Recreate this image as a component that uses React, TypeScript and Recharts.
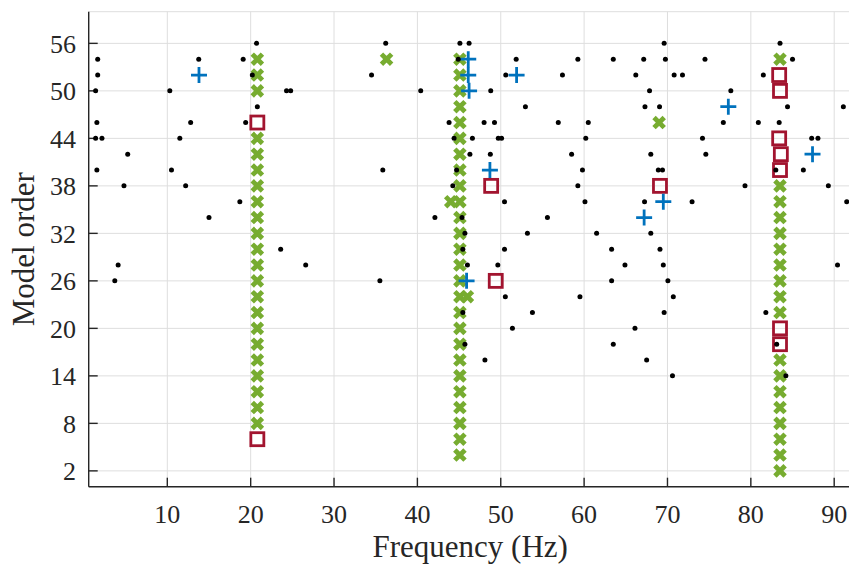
import React from 'react';
import { ScatterChart, Scatter, XAxis, YAxis, CartesianGrid, Label } from 'recharts';

// axis ticks
const freqTicks = [10, 20, 30, 40, 50, 60, 70, 80, 90];
const orderTicks = [2, 8, 14, 20, 26, 32, 38, 44, 50, 56];

// stable poles (frequency, damping and mode shape) -> green x
const stablePoles: [number, number][] = [
  [20.8, 8], [20.8, 10], [20.8, 12], [20.8, 14], [20.8, 16], [20.8, 18], [20.8, 20],
  [20.8, 22], [20.8, 24], [20.8, 26], [20.8, 28], [20.8, 30], [20.8, 32], [20.8, 34],
  [20.8, 36], [20.8, 38], [20.8, 40], [20.8, 42], [20.8, 44], [20.8, 50], [20.8, 52],
  [20.8, 54],
  [36.3, 54],
  [45.1, 4], [45.1, 6], [45.1, 8], [45.1, 10], [45.1, 12], [45.1, 14], [45.1, 16],
  [45.1, 18], [45.1, 20], [45.1, 22], [45.1, 24], [45.1, 26], [45.1, 28], [45.1, 30],
  [45.1, 32], [45.1, 34], [45.1, 36], [45.1, 38], [45.1, 40], [45.1, 42], [45.1, 44],
  [45.1, 46], [45.1, 48], [45.1, 50], [45.1, 52], [45.1, 54],
  [44.0, 36], [46.0, 24],
  [69.0, 46],
  [83.5, 2], [83.5, 4], [83.5, 6], [83.5, 8], [83.5, 10], [83.5, 12], [83.5, 14],
  [83.5, 16], [83.5, 22], [83.5, 24], [83.5, 26], [83.5, 28], [83.5, 30], [83.5, 32],
  [83.5, 34], [83.5, 36], [83.5, 38], [83.5, 54],
];

// stable in frequency only -> red square
const freqPoles: [number, number][] = [
  [20.8, 46], [20.8, 6], [48.85, 38], [49.4, 26], [69.1, 38],
  [83.4, 52], [83.5, 50], [83.4, 44], [83.6, 42], [83.5, 40], [83.5, 20], [83.5, 18],
];

// stable in frequency and damping -> blue plus
const dampPoles: [number, number][] = [
  [13.8, 52], [46.1, 54], [46.1, 52], [46.2, 50], [51.9, 52], [48.7, 40], [45.9, 26],
  [77.3, 48], [87.4, 42], [69.5, 36], [67.2, 34],
];

// unstable poles -> black dot
const newPoles: [number, number][] = [
  [1.65, 54], [1.65, 52], [1.4, 50], [1.55, 46], [1.4, 44], [2.16, 44], [5.25, 42],
  [1.55, 40], [4.8, 38], [13.77, 54], [10.3, 50], [12.8, 46], [11.5, 44], [10.5, 40],
  [12.2, 38], [15.0, 34], [18.7, 36], [19.1, 54], [20.2, 52], [19.4, 46], [20.7, 56],
  [20.8, 48], [24.3, 50], [24.8, 50], [23.6, 30], [4.1, 28], [3.7, 26],
  [36.2, 56], [34.5, 52], [40.4, 50], [45.1, 56], [46.2, 56], [44.9, 54], [48.8, 50],
  [51.85, 54], [50.6, 52], [57.4, 52], [59.25, 54], [52.96, 48], [43.8, 46], [48.0, 46],
  [49.25, 46], [56.9, 46], [44.4, 44], [46.6, 44], [49.7, 44], [50.1, 44], [46.3, 42],
  [48.75, 42], [58.5, 42], [35.85, 40], [44.7, 40], [44.25, 38], [59.25, 38], [50.45, 36],
  [42.1, 34], [45.35, 34], [55.6, 34], [45.7, 32], [53.2, 32], [45.45, 30], [50.45, 30],
  [26.6, 28], [35.5, 26], [46.0, 28], [49.65, 28], [50.55, 24], [59.5, 24], [45.45, 22],
  [53.8, 22], [51.4, 20], [45.7, 18], [48.1, 16],
  [69.6, 56], [83.5, 56], [63.5, 54], [67.15, 54], [69.75, 54], [74.5, 54], [85.0, 54],
  [66.2, 52], [70.8, 52], [71.8, 52], [81.5, 52], [67.85, 50], [77.6, 50], [67.3, 48],
  [69.05, 48], [84.4, 48], [91.1, 48], [60.5, 46], [76.7, 46], [80.9, 46], [83.4, 46],
  [60.2, 44], [74.2, 44], [87.3, 44], [88.05, 44], [68.0, 42], [74.6, 42], [59.8, 40],
  [68.9, 40], [69.4, 40], [83.0, 40], [86.3, 40], [79.3, 38], [89.3, 38], [60.1, 36],
  [67.25, 36], [72.95, 36], [91.5, 36], [61.5, 32], [68.0, 32], [63.3, 30], [69.1, 30],
  [64.9, 28], [69.5, 28], [90.4, 28], [63.3, 26], [70.05, 26], [70.7, 24], [69.6, 22],
  [81.8, 22], [66.1, 20], [63.5, 18], [83.1, 18], [67.5, 16], [70.6, 14], [84.2, 14],
];

const toRows = (pts: [number, number][]) => pts.map(([f, n]) => ({ f, n }));

const AXIS = '#262626';
const FONT = 'Liberation Serif';

const Dot = (p: any) => <circle cx={p.cx} cy={p.cy} r={2.5} fill="#000" />;

const Cross = (p: any) => {
  const s = 5.1;
  return (
    <path
      d={`M${p.cx - s},${p.cy - s}L${p.cx + s},${p.cy + s}M${p.cx - s},${p.cy + s}L${p.cx + s},${p.cy - s}`}
      stroke="#77AC30"
      strokeWidth={4.8}
      fill="none"
    />
  );
};

const Plus = (p: any) => {
  const s = 8;
  return (
    <path
      d={`M${p.cx - s},${p.cy}L${p.cx + s},${p.cy}M${p.cx},${p.cy - s}L${p.cx},${p.cy + s}`}
      stroke="#0072BD"
      strokeWidth={2.8}
      fill="none"
    />
  );
};

const Square = (p: any) => {
  const s = 6.5;
  return (
    <rect
      x={p.cx - s}
      y={p.cy - s}
      width={2 * s}
      height={2 * s}
      stroke="#A2142F"
      strokeWidth={2.8}
      fill="none"
    />
  );
};

const noTick = () => <g />;

export default function App() {
  return (
    <div style={{ position: 'absolute', left: 0, top: 0, width: 849, height: 572, overflow: 'hidden', background: '#fff' }}>
      <ScatterChart
        width={860}
        height={572}
        margin={{ top: 11.7, right: 8.3, bottom: 0, left: 0 }}
        style={{ fontFamily: FONT }}
      >
        <CartesianGrid xAxisId="b" yAxisId="l" stroke="#dedede" strokeWidth={1} />
        <XAxis
          xAxisId="b"
          dataKey="f"
          type="number"
          domain={[0.57, 92.1]}
          ticks={freqTicks}
          allowDataOverflow
          height={85.3}
          tickSize={-9}
          tickMargin={27}
          stroke={AXIS}
          strokeWidth={1.4}
          tick={{ fill: AXIS, fontSize: 26, fontFamily: FONT }}
        >
          <Label value="Frequency (Hz)" position="insideBottom" offset={15} fill={AXIS} fontSize={31} fontFamily={FONT} />
        </XAxis>
        <XAxis
          xAxisId="t"
          orientation="top"
          dataKey="f"
          type="number"
          domain={[0.57, 92.1]}
          ticks={freqTicks}
          allowDataOverflow
          height={0}
          tickSize={-9}
          stroke={AXIS}
          strokeWidth={1.4}
          tick={noTick}
        />
        <YAxis
          yAxisId="l"
          dataKey="n"
          type="number"
          domain={[0, 60]}
          ticks={orderTicks}
          allowDataOverflow
          width={88.7}
          tickSize={-9}
          tickMargin={21.7}
          stroke={AXIS}
          strokeWidth={1.4}
          tick={{ fill: AXIS, fontSize: 26, fontFamily: FONT }}
        >
          <Label
            value="Model order"
            angle={-90}
            position="insideLeft"
            offset={22.5}
            fill={AXIS}
            fontSize={31}
            fontFamily={FONT}
            style={{ textAnchor: 'middle' }}
          />
        </YAxis>
        <YAxis
          yAxisId="r"
          orientation="right"
          dataKey="n"
          type="number"
          domain={[0, 60]}
          ticks={orderTicks}
          allowDataOverflow
          width={0}
          tickSize={-9}
          stroke={AXIS}
          strokeWidth={1.4}
          tick={noTick}
        />
        <Scatter xAxisId="b" yAxisId="l" data={toRows(stablePoles)} shape={Cross} isAnimationActive={false} />
        <Scatter xAxisId="b" yAxisId="l" data={toRows(freqPoles)} shape={Square} isAnimationActive={false} />
        <Scatter xAxisId="b" yAxisId="l" data={toRows(dampPoles)} shape={Plus} isAnimationActive={false} />
        <Scatter xAxisId="b" yAxisId="l" data={toRows(newPoles)} shape={Dot} isAnimationActive={false} />
      </ScatterChart>
    </div>
  );
}
